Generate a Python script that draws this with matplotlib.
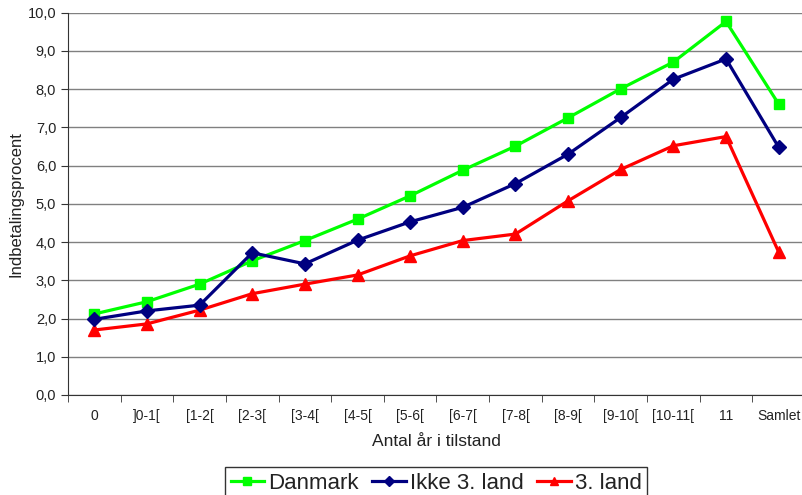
import matplotlib.pyplot as plt
from matplotlib.ticker import FixedLocator, FuncFormatter

plt.rcParams['font.family'] = ['Liberation Sans', 'DejaVu Sans']

categories = ['0', ']0-1[', '[1-2[', '[2-3[', '[3-4[', '[4-5[', '[5-6[', '[6-7[',
              '[7-8[', '[8-9[', '[9-10[', '[10-11[', '11', 'Samlet']
danmark = [2.12, 2.44, 2.90, 3.51, 4.04, 4.60, 5.21, 5.88, 6.51, 7.25, 8.01, 8.71, 9.77, 7.61]
ikke_3_land = [1.98, 2.20, 2.35, 3.72, 3.43, 4.05, 4.53, 4.91, 5.53, 6.30, 7.26, 8.26, 8.79, 6.48]
tredje_land = [1.70, 1.86, 2.22, 2.65, 2.90, 3.14, 3.64, 4.04, 4.21, 5.08, 5.90, 6.52, 6.76, 3.74]

fig = plt.figure(figsize=(8.02, 4.95), dpi=100)
ax = fig.add_axes([68 / 802, 1 - 395 / 495, 737 / 802, (395 - 12.7) / 495])

x = list(range(len(categories)))
ax.plot(x, danmark, color='#00ff00', lw=2.3, marker='s', ms=7.5, label='Danmark', zorder=3)
ax.plot(x, ikke_3_land, color='#000080', lw=2.3, marker='D', ms=7, label='Ikke 3. land', zorder=4)
ax.plot(x, tredje_land, color='#ff0000', lw=2.3, marker='^', ms=8, label='3. land', zorder=3)

ax.set_xlim(-0.5, len(categories) - 0.5)
ax.set_ylim(0, 10)
ax.set_yticks([i for i in range(11)])
ax.yaxis.set_major_formatter(FuncFormatter(lambda v, p: f'{v:.1f}'.replace('.', ',')))
ax.grid(axis='y', color='#808080', lw=1)
ax.set_axisbelow(True)

# category labels in the middle, tick marks on the boundaries
ax.set_xticks(x)
ax.set_xticklabels(categories)
ax.tick_params(axis='x', which='major', length=0, pad=10, labelsize=10, colors='#222222')
ax.xaxis.set_minor_locator(FixedLocator([i - 0.5 for i in range(len(categories))]))
ax.tick_params(axis='x', which='minor', length=5, direction='out', color='#333333')
ax.tick_params(axis='y', length=5, direction='out', labelsize=10.5, colors='#333333',
               labelcolor='#222222')

for side in ['top', 'right']:
    ax.spines[side].set_visible(False)
ax.spines['left'].set_color('#333333')
ax.spines['bottom'].set_color('#333333')

ax.set_xlabel('Antal år i tilstand', fontsize=12.5, color='#222222', labelpad=8)
ax.set_ylabel('Indbetalingsprocent', fontsize=12, color='#222222', labelpad=3)

leg = fig.legend(loc='upper center', bbox_to_anchor=(0.544, 1 - 467 / 495), ncol=3,
                 fontsize=16, frameon=True, fancybox=False, borderaxespad=0,
                 handlelength=1.5, handletextpad=0.2, columnspacing=0.6,
                 borderpad=0.25, markerscale=0.7)
leg.get_frame().set_edgecolor('#000000')
leg.get_frame().set_linewidth(1)
for t in leg.get_texts():
    t.set_color('#222222')

fig.savefig('out.png', dpi=100)
